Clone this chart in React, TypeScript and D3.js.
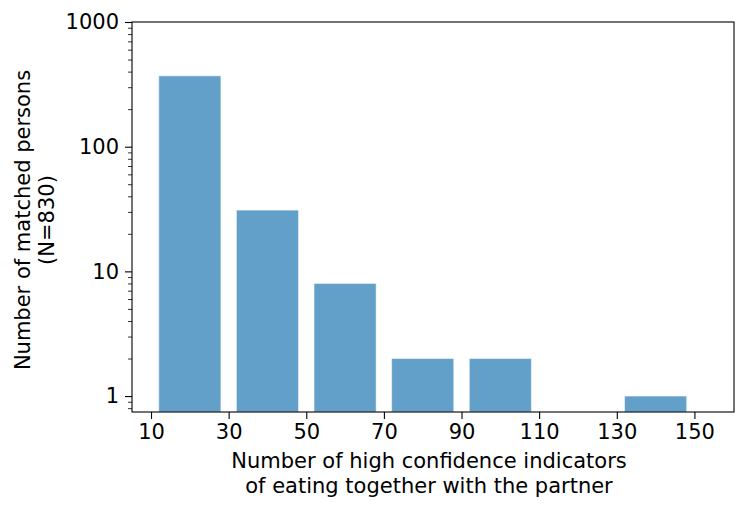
import React, { useEffect, useRef } from 'react';
import * as d3 from 'd3';

// bin centres (indicators) and the number of persons in each bin
const binCenters = [20, 40, 60, 80, 100, 140];
const counts = [370, 31, 8, 2, 2, 1];
const xTicks = [10, 30, 50, 70, 90, 110, 130, 150];
const yTicks = [1, 10, 100, 1000];
const binWidth = 16;

const App: React.FC = () => {
  const svgRef = useRef<SVGSVGElement>(null);

  useEffect(() => {
    if (!svgRef.current) return;
    d3.select(svgRef.current).selectAll('*').remove();

    const W = 747;
    const H = 511;
    const margin = { top: 22, right: 13, bottom: 99, left: 132 };
    const width = W - margin.left - margin.right;
    const height = H - margin.top - margin.bottom;
    const font = 'DejaVu Sans, sans-serif';
    const fs = '21px';

    const svg = d3
      .select(svgRef.current)
      .attr('width', W)
      .attr('height', H)
      .append('g')
      .attr('transform', `translate(${margin.left},${margin.top})`);

    const x = d3.scaleLinear().domain([5.1, 160.2]).range([0, width]);
    const y = d3.scaleLog().domain([0.745, 1000]).range([height, 0]);

    // bars
    svg
      .selectAll('.bar')
      .data(binCenters)
      .enter()
      .append('rect')
      .attr('class', 'bar')
      .attr('x', (d) => x(d - binWidth / 2))
      .attr('width', (d) => x(d + binWidth / 2) - x(d - binWidth / 2))
      .attr('y', (d, i) => y(counts[i]))
      .attr('height', (d, i) => height - y(counts[i]))
      .attr('fill', '#62a0ca')
      .attr('stroke', '#ffffff')
      .attr('stroke-opacity', 0.5)
      .attr('stroke-width', 1);

    // x axis
    const xAxis = svg
      .append('g')
      .attr('transform', `translate(0,${height})`)
      .call(d3.axisBottom(x).tickValues(xTicks).tickFormat(d3.format('d')).tickSize(7).tickPadding(5));
    xAxis.select('.domain').remove();
    xAxis.selectAll('text').style('font-family', font).style('font-size', fs).attr('fill', '#000');
    xAxis.selectAll('line').attr('stroke', '#000').attr('stroke-width', 1.1);

    // y axis, major ticks
    const yAxis = svg
      .append('g')
      .call(d3.axisLeft(y).tickValues(yTicks).tickFormat(d3.format('d')).tickSize(7).tickPadding(6));
    yAxis.select('.domain').remove();
    yAxis.selectAll('text').style('font-family', font).style('font-size', fs).attr('fill', '#000');
    yAxis.selectAll('line').attr('stroke', '#000').attr('stroke-width', 1.1);

    // y axis, minor ticks
    const minor = y.ticks().filter((v) => !yTicks.includes(v) && v >= 0.745);
    svg
      .append('g')
      .call(d3.axisLeft(y).tickValues(minor).tickFormat(() => '').tickSize(4))
      .call((g) => g.select('.domain').remove())
      .selectAll('line')
      .attr('stroke', '#000')
      .attr('stroke-width', 0.8);

    // frame
    svg
      .append('rect')
      .attr('width', width)
      .attr('height', height)
      .attr('fill', 'none')
      .attr('stroke', '#000')
      .attr('stroke-width', 1.1);

    // x label
    const xl = svg
      .append('text')
      .attr('x', width / 2 - 4)
      .attr('y', height + 56)
      .attr('text-anchor', 'middle')
      .style('font-family', font)
      .style('font-size', fs);
    xl.append('tspan').attr('x', width / 2 - 4).text('Number of high confidence indicators');
    xl.append('tspan').attr('x', width / 2 - 4).attr('dy', 25).text('of eating together with the partner');

    // y label
    const yl = svg
      .append('text')
      .attr('transform', `translate(${-102},${height / 2 + 3}) rotate(-90)`)
      .attr('text-anchor', 'middle')
      .style('font-family', font)
      .style('font-size', fs);
    yl.append('tspan').attr('x', 0).text('Number of matched persons');
    yl.append('tspan').attr('x', 0).attr('dy', 24).text('(N=830)');
  }, []);

  return <svg ref={svgRef} style={{ position: 'absolute', left: 0, top: 0 }}></svg>;
};

export default App;
